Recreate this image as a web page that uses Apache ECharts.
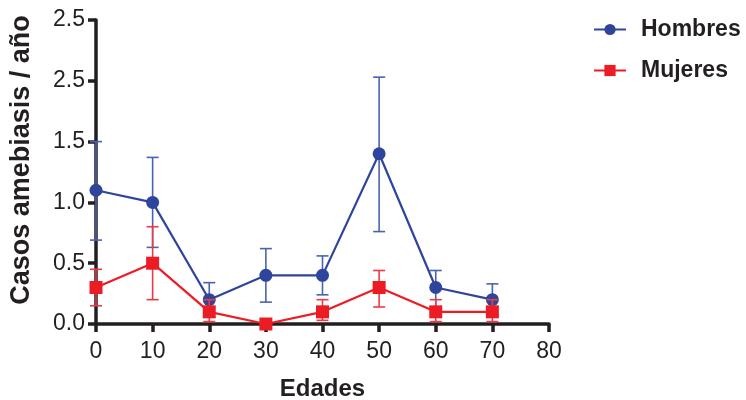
<!DOCTYPE html>
<html><head><meta charset="utf-8">
<script src="https://cdn.jsdelivr.net/npm/echarts@6/dist/echarts.min.js"></script>
<style>html,body{margin:0;padding:0;background:#fff}#c{width:746px;height:400px}</style>
</head><body><div id="c"></div>
<script>
const ages = [0, 10, 20, 30, 40, 50, 60, 70];
const yTickLabels = ['0.0', '0.5', '1.0', '1.5', '2.5', '2.5'];
const hombres = [1.1, 1.0, 0.2, 0.4, 0.4, 1.4, 0.3, 0.2];
const hombresLow = [0.69, 0.63, 0.06, 0.18, 0.24, 0.76, 0.13, 0.07];
const hombresHigh = [1.50, 1.37, 0.34, 0.62, 0.56, 2.03, 0.44, 0.33];
const mujeres = [0.3, 0.5, 0.1, 0.0, 0.1, 0.3, 0.1, 0.1];
const mujeresLow = [0.15, 0.20, 0.02, 0.0, 0.03, 0.14, 0.02, 0.02];
const mujeresHigh = [0.45, 0.80, 0.20, 0.0, 0.20, 0.44, 0.20, 0.20];

const FONT = 'Liberation Sans';
const TXT = '#231f20';
const BLUE = '#2e459b';
const RED = '#ec1c24';

function errSeries(low, high, color, z) {
  return {
    type: 'custom', z: z, silent: true, clip: false,
    data: ages.map((a, i) => [a, low[i], high[i]]),
    renderItem: function (params, api) {
      const x = api.value(0);
      const p1 = api.coord([x, api.value(1)]);
      const p2 = api.coord([x, api.value(2)]);
      if (Math.abs(p1[1] - p2[1]) < 0.5) return null;
      const hw = 6;
      const st = { stroke: color, lineWidth: 1.6 };
      return { type: 'group', children: [
        { type: 'line', shape: { x1: p1[0], y1: p1[1], x2: p2[0], y2: p2[1] }, style: st },
        { type: 'line', shape: { x1: p1[0] - hw, y1: p1[1], x2: p1[0] + hw, y2: p1[1] }, style: st },
        { type: 'line', shape: { x1: p2[0] - hw, y1: p2[1], x2: p2[0] + hw, y2: p2[1] }, style: st }
      ]};
    }
  };
}

const chart = echarts.init(document.getElementById('c'), null, { renderer: 'canvas' });
chart.setOption({
  animation: false,
  backgroundColor: '#fff',
  grid: { left: 96, right: 197, top: 20, bottom: 76, containLabel: false, outerBoundsMode: 'none' },
  legend: {
    orient: 'vertical', left: 593, top: 18, itemGap: 18, padding: 0,
    itemWidth: 32, itemHeight: 14,
    textStyle: { fontFamily: FONT, fontSize: 23, color: TXT, fontWeight: 'bold', padding: [0, 0, 0, 10] },
    data: ['Hombres', 'Mujeres']
  },
  graphic: [{
    type: 'text',
    x: 22, y: 160, rotation: Math.PI / 2,
    style: { text: 'Casos amebiasis / año', fontFamily: FONT, fontSize: 27, fontWeight: 'bold',
      fill: TXT, align: 'center', verticalAlign: 'middle' }
  }],
  xAxis: {
    type: 'value', min: 0, max: 80, interval: 10,
    name: 'Edades', nameLocation: 'middle', nameGap: 53,
    nameTextStyle: { fontFamily: FONT, fontSize: 24, color: TXT, fontWeight: 'bold' },
    axisLine: { lineStyle: { color: TXT, width: 3.5 } },
    axisTick: { length: 8, lineStyle: { color: TXT, width: 3.5 } },
    axisLabel: { fontFamily: FONT, fontSize: 23, color: TXT, margin: 16 },
    splitLine: { show: false }
  },
  yAxis: {
    type: 'value', min: 0, max: 2.5, interval: 0.5,
    axisLine: { lineStyle: { color: TXT, width: 3.5 } },
    axisTick: { length: 8, lineStyle: { color: TXT, width: 3.5 } },
    axisLabel: { fontFamily: FONT, fontSize: 23, color: TXT, margin: 11,
      formatter: function (v) { return yTickLabels[Math.round(v / 0.5)]; } },
    splitLine: { show: false }
  },
  series: [
    errSeries(hombresLow, hombresHigh, '#4a63b0', 2),
    {
      name: 'Hombres', type: 'line', z: 3, clip: false,
      data: ages.map((a, i) => [a, hombres[i]]),
      symbol: 'circle', symbolSize: 13,
      lineStyle: { color: BLUE, width: 2.2 },
      itemStyle: { color: BLUE }
    },
    errSeries(mujeresLow, mujeresHigh, '#ee3a43', 4),
    {
      name: 'Mujeres', type: 'line', z: 5, clip: false,
      data: ages.map((a, i) => [a, mujeres[i]]),
      symbol: 'rect', symbolSize: 13,
      lineStyle: { color: RED, width: 2.2 },
      itemStyle: { color: RED }
    }
  ]
});
</script></body></html>
